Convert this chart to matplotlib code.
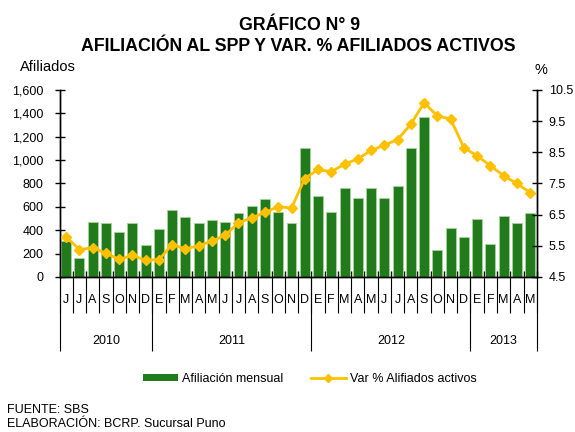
import numpy as np
import matplotlib
matplotlib.use("Agg")
import matplotlib.pyplot as plt
from matplotlib.patches import Patch
from matplotlib.lines import Line2D
from matplotlib.transforms import blended_transform_factory

plt.rcParams['font.family'] = ['Liberation Sans', 'DejaVu Sans']

# DATA #
month_labels = (["J", "J", "A", "S", "O", "N", "D"]
                + ["E", "F", "M", "A", "M", "J", "J", "A", "S", "O", "N", "D"]
                + ["E", "F", "M", "A", "M", "J", "J", "A", "S", "O", "N", "D"]
                + ["E", "F", "M", "A", "M"])
years = ["2010", "2011", "2012", "2013"]
months_per_year = [7, 12, 12, 5]

afiliacion = [305, 165, 470, 460, 385, 460, 270,
              410, 575, 510, 460, 485, 470, 550, 610, 665, 560, 460, 1105,
              690, 560, 765, 680, 765, 680, 780, 1105, 1365, 235, 420, 345,
              500, 280, 520, 460, 550]
var_activos = [5.79, 5.38, 5.44, 5.26, 5.07, 5.19, 5.04,
               5.06, 5.54, 5.40, 5.51, 5.65, 5.84, 6.24, 6.40, 6.57, 6.76, 6.71, 7.66,
               7.95, 7.88, 8.12, 8.29, 8.56, 8.73, 8.91, 9.40, 10.09, 9.67, 9.57, 8.65,
               8.39, 8.07, 7.75, 7.50, 7.21]

GREEN = "#217A1C"
GOLD = "#FFC000"

# FIGURE #
fig = plt.figure(figsize=(5.75, 4.32), dpi=100)
ax = fig.add_axes([0.1035, 0.3588, 0.830, 0.4329])
ax2 = ax.twinx()

x = np.arange(len(afiliacion))
ax.bar(x, afiliacion, width=0.75, color=GREEN, edgecolor="#A8D49A", linewidth=0.6, zorder=2)
ax2.plot(x, var_activos, color=GOLD, linewidth=2, marker="D", markersize=5, zorder=3)

ax.set_xlim(-0.5, len(x) - 0.5)
ax.set_ylim(0, 1600)
ax.set_yticks(np.arange(0, 1601, 200))
ax.set_yticklabels([f"{v:,}" for v in range(0, 1601, 200)], fontsize=9)
ax2.set_ylim(4.5, 10.5)
ax2.set_yticks(np.arange(4.5, 10.6, 1.0))
ax2.set_yticklabels([f"{v:.1f}" for v in np.arange(4.5, 10.6, 1.0)], fontsize=9)

for a in (ax, ax2):
    a.spines["top"].set_visible(False)
    for s in ("left", "right", "bottom"):
        a.spines[s].set_linewidth(1.0)
ax.tick_params(axis="y", direction="inout", length=7, width=1, pad=8)
ax2.tick_params(axis="y", direction="inout", length=7, width=1, pad=5)

# category axis: months and years
ax.set_xticks(x)
ax.set_xticklabels(month_labels, fontsize=9)
ax.tick_params(axis="x", length=0, pad=12)
ax.set_xticks(np.arange(-0.5, len(x), 1.0), minor=True)
ax.tick_params(axis="x", which="minor", direction="in", length=4, width=1)

trans = blended_transform_factory(ax.transData, ax.transAxes)
ax.vlines(np.arange(-0.5, len(x), 1.0), -0.19, 0, colors="black", linewidth=0.8,
          transform=trans, clip_on=False)
edges = np.concatenate([[0], np.cumsum(months_per_year)]) - 0.5
ax.vlines(edges, -0.395, 0, colors="black", linewidth=0.8, transform=trans, clip_on=False)
for i, yr in enumerate(years):
    ax.text((edges[i] + edges[i + 1]) / 2, -0.34, yr, transform=trans,
            ha="center", va="center", fontsize=9)

# titles
fig.text(0.521, 0.940, "GRÁFICO N° 9", ha="center", va="center", fontsize=12.8, fontweight="bold")
fig.text(0.519, 0.892, "AFILIACIÓN AL SPP Y VAR. % AFILIADOS ACTIVOS", ha="center",
         va="center", fontsize=12.8, fontweight="bold")
fig.text(0.035, 0.845, "Afiliados", ha="left", va="center", fontsize=10.5)
fig.text(0.930, 0.838, "%", ha="left", va="center", fontsize=10.5)

# legend
handles = [Patch(facecolor=GREEN, edgecolor="none"),
           Line2D([0], [0], color=GOLD, linewidth=2, marker="D", markersize=4)]
fig.legend(handles, ["Afiliación mensual", "Var % Alifiados activos"], loc="center",
           bbox_to_anchor=(0.539, 0.122), ncol=2, frameon=False, fontsize=9,
           handlelength=2.8, handleheight=0.5, columnspacing=2.2, handletextpad=0.3)

# source
foot = ["Liberation Sans Narrow", "DejaVu Sans Condensed", "Liberation Sans"]
fig.text(0.012, 0.050, "FUENTE: SBS", ha="left", va="center", fontsize=9, family=foot)
fig.text(0.012, 0.018, "ELABORACIÓN: BCRP. Sucursal Puno", ha="left", va="center",
         fontsize=9, family=foot)

fig.savefig("out.png", dpi=100)
